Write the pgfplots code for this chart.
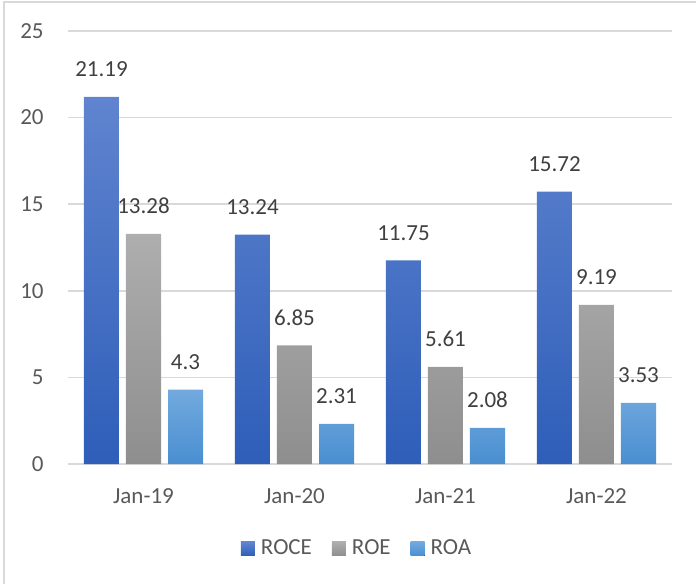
\documentclass[border=0pt]{standalone}
\usepackage{pgfplots}
\pgfplotsset{compat=1.18}
\usepackage{fontspec}
\setmainfont{Carlito}
\definecolor{gridgray}{HTML}{D9D9D9}
\definecolor{ticktext}{HTML}{595959}
\definecolor{labeltext}{HTML}{404040}
\definecolor{roceT}{HTML}{6084CF}
\definecolor{roceB}{HTML}{2E5EB9}
\definecolor{roeT}{HTML}{AEAEAE}
\definecolor{roeB}{HTML}{8E8E8E}
\definecolor{roaT}{HTML}{72AADE}
\definecolor{roaB}{HTML}{4A8ED1}
\pgfplotsset{
  sq legend/.style={legend image code/.code={\fill[##1,draw=none] (0pt,-3.5pt) rectangle (7pt,3.5pt);}}
}
\begin{document}
\begin{tikzpicture}
\path[use as bounding box] (0,0) rectangle (348pt,292pt);
\draw[gridgray, line width=1pt] (2pt,0) -- (2pt,291pt) -- (348pt,291pt);
\begin{axis}[
  at={(34pt,60pt)}, anchor=south west,
  scale only axis, width=302pt, height=216.5pt,
  ybar=3.5pt, bar width=17.5pt,
  ymin=0, ymax=25, ytick={0,5,10,15,20,25},
  xmin=-0.5, xmax=3.5, xtick={0,1,2,3},
  xticklabels={Jan-19,Jan-20,Jan-21,Jan-22},
  axis x line*=bottom, axis y line*=left,
  y axis line style={draw=none},
  x axis line style={draw=gridgray, line width=1pt, -},
  major tick length=0pt, tick style={draw=none},
  ymajorgrids, grid style={gridgray, line width=0.75pt},
  /pgf/number format/assume math mode=true,
  ticklabel style={font=\fontsize{11.5}{14}\selectfont, text=ticktext, inner sep=0pt},
  yticklabel style={anchor=east, xshift=-12pt},
  xticklabel style={anchor=base, yshift=-19.5pt},
  nodes near coords,
  every node near coord/.append style={font=\fontsize{11.5}{14}\selectfont, text=labeltext, anchor=base, inner sep=0pt, yshift=10pt},
  legend columns=3,
  legend style={draw=none, fill=none, at={(0.477,-0.196)}, anchor=center,
    font=\fontsize{11.5}{14}\selectfont, text=ticktext,
    nodes={inner sep=0pt},
    /tikz/every odd column/.append style={column sep=3pt},
    /tikz/every even column/.append style={column sep=10pt}},
  legend cell align=left,
]
\addplot[draw=none, top color=roceT, bottom color=roceB, sq legend] coordinates {(0,21.19) (1,13.24) (2,11.75) (3,15.72)};
\addplot[draw=none, top color=roeT, bottom color=roeB, sq legend] coordinates {(0,13.28) (1,6.85) (2,5.61) (3,9.19)};
\addplot[draw=none, top color=roaT, bottom color=roaB, sq legend] coordinates {(0,4.3) (1,2.31) (2,2.08) (3,3.53)};
\legend{ROCE,ROE,ROA}
\end{axis}
\end{tikzpicture}
\end{document}
